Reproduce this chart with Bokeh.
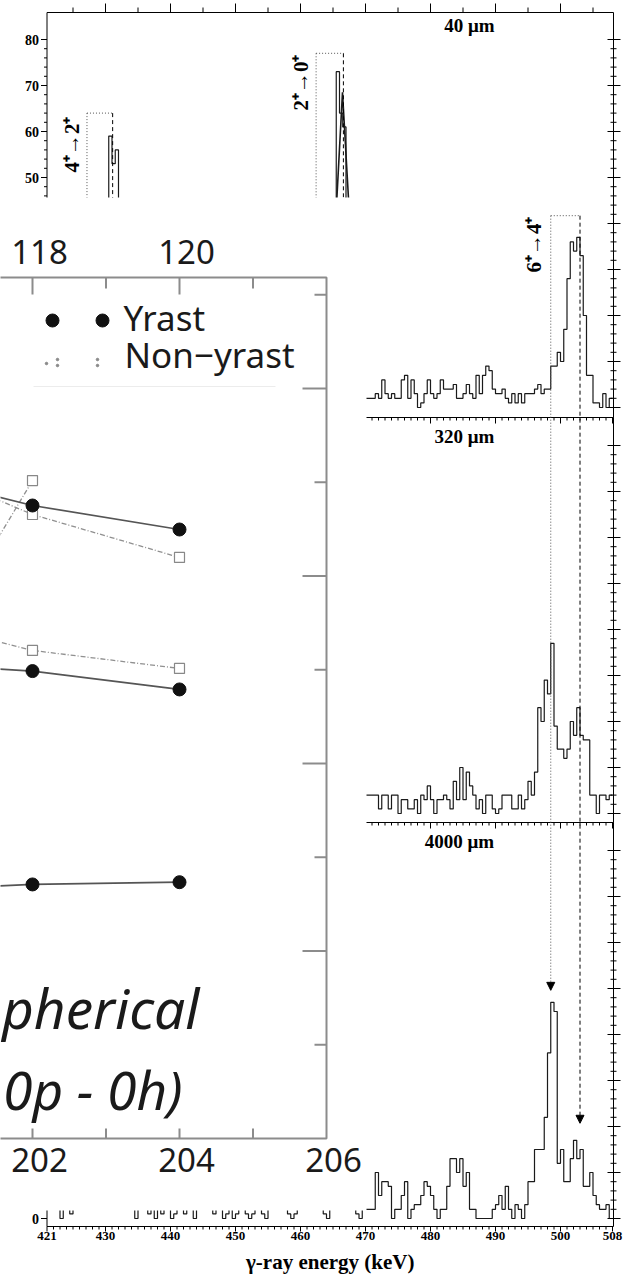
import numpy as np
from bokeh.plotting import figure
from bokeh.models import Range1d, Arrow, NormalHead
from bokeh.core.properties import value
from bokeh.embed import file_html
from bokeh.resources import INLINE

# ======================= DATA =======================
BIN_KEV = 0.5
# 40 um panel (counts per 0.5 keV bin, first bin starts at P1_START)
P1_START = 470.0
P1_COUNTS = [2, 2, 2, 3, 2, 6, 3, 2, 3, 2,
             2, 6, 7, 2, 6, 3, 0, 1, 3, 6,
             3, 2, 3, 6, 4, 4, 4, 5, 2, 2,
             3, 5, 3, 2, 7, 3, 7, 9, 8, 4,
             3, 3, 4, 2, 1, 3, 1, 3, 1, 3,
             3, 3, 4, 5, 3, 4, 4, 9, 9, 12,
             10, 17, 28, 36, 34, 37, 33, 20, 7, 7,
             1, 1, 0, 3, 0, 2]
P1_42_START = 429.5
P1_42_COUNTS = [20, 38, 59, 53, 56, 30, 12]
P1_20_START = 464.5
P1_20_COUNTS = [15, 35, 73, 64, 61, 30, 12]
FIT20_E = [465.2, 466.46, 467.8]
FIT20_C = [35, 68.5, 35]
# 320 um panel
P2_START = 470.0
P2_COUNTS = [4, 4, 4, 4, 1, 4, 4, 1, 4, 4,
             0, 3, 3, 1, 1, 3, 0, 4, 3, 6,
             3, 0, 3, 3, 4, 3, 1, 7, 3, 10,
             3, 9, 6, 4, 1, 3, 0, 4, 4, 1,
             0, 1, 4, 4, 4, 1, 1, 4, 1, 3,
             7, 4, 9, 23, 20, 29, 26, 37, 19, 14,
             14, 12, 14, 20, 17, 23, 17, 16, 16, 4,
             4, 0, 4, 4, 3, 4]
# 4000 um panel
P3_START = 421.0
P3_COUNTS = [4, 5, 3, 4, 0, 5, 3, 1, 4, 6,
             3, 5, 4, 3, 6, 4, 3, 5, 4, 3,
             5, 4, 3, 6, 4, 5, 3, 0, 4, 3,
             5, 1, 4, 0, 3, 1, 4, 5, 0, 1,
             4, 3, 1, 5, 4, 0, 3, 4, 5, 3,
             4, 1, 4, 3, 0, 1, 4, 0, 1, 3,
             5, 1, 0, 1, 4, 3, 1, 0, 4, 5,
             3, 4, 5, 3, 1, 0, 1, 4, 3, 5,
             4, 3, 5, 4, 3, 1, 0, 4, 5, 3,
             4, 5, 3, 4, 3, 1, 0, 2,
             2, 2, 2, 10, 5, 8, 8, 7, 0, 2,
             2, 5, 8, 0, 2, 3, 3, 5, 8, 7,
             5, 2, 0, 2, 2, 7, 13, 13, 10, 13,
             7, 10, 2, 2, 0, 0, 0, 0, 0, 2,
             3, 5, 2, 7, 2, 0, 3, 2, 0, 3,
             8, 8, 15, 15, 15, 22, 36, 47, 45, 12,
             15, 8, 8, 13, 17, 13, 15, 7, 7, 10,
             5, 3, 2, 2, 3, 0]

PANEL_LABELS = ["40 \u03bcm", "320 \u03bcm", "4000 \u03bcm"]
TRANS_LABELS = ["4\u207a\u21922\u207a", "2\u207a\u21920\u207a", "6\u207a\u21924\u207a"]
TRANS_E_DOTTED = [427.15, 462.4, 498.5]
TRANS_E_DASHED = [431.1, 466.6, 503.0]
TRANS_BOX_TOP = [64, 77, 41.7]
ARROW_TIPS_P3 = [49.6, 20.7]   # counts in the 4000 um panel (dotted, dashed)

E_TICKS = [421, 430, 440, 450, 460, 470, 480, 490, 500, 508]
E_MINOR = list(range(422, 508))
E_TOP_MAJOR = [430, 440, 450, 460, 470, 480, 490, 500]
E_TOP_MINOR = [425, 435, 445, 455, 465, 475, 485, 495, 505]
COUNT_MAJOR = list(range(0, 81, 10))
COUNT_MINOR = list(range(0, 81, 2))
P1_YLABELS = [50, 60, 70, 80]
P3_YLABELS = [0]
X_TITLE = "\u03b3-ray energy (keV)"

# inset (Yrast / Non-yrast) chart
OV_A_MAJOR = [202, 204, 206]
OV_A_MINOR = [203, 205]
OV_N_MAJOR = [118, 120]
OV_N_MINOR = [119, 121]
OV_A_MINUS_N = 84
OV_Y_MAJOR = [1, 2, 3, 4]
OV_Y_MINOR = [0.5, 1.5, 2.5, 3.5, 4.5]
OV_X = [200, 202, 204]
YRAST_1 = [3.57, 3.376, 3.248]
YRAST_2 = [2.54, 2.493, 2.395]
YRAST_3 = [1.32, 1.355, 1.367]
NONYRAST_1 = [3.66, 3.328, 3.099]
NONYRAST_2_X = [200, 202]
NONYRAST_2 = [2.2, 3.509]
NONYRAST_3 = [2.8, 2.603, 2.507]
LEGEND_TEXT = ["Yrast", "Non\u2212yrast"]
OV_TEXT = ["pherical", "0p - 0h)"]

# ======================= LAYOUT =======================
W, H = 623, 1281
PAGE_L, PAGE_R, PAGE_T, PAGE_B = 0, W, 0, H
E_REF, PX_REF, PX_PER_KEV = 470.0, 365.0, 6.5
PX_PER_COUNT = 4.6
PANEL_ZERO = [407, 813, 1218]
PANEL_TOP = [12, 417, 822]
PANEL_BOTTOM = [417, 822, 1226]
OV_A_REF, OV_PX_REF, OV_PX_PER_A = 202, 32, 73.5
OV_Y0_PAGE, OV_PX_PER_Y = 1138, 187.5
OV_Y_TOP = 4.592
MASK = dict(left=PAGE_L, right=366, top=197, bottom=1210)

SERIF = value("Liberation Serif")
SANS = value("Noto Sans")
INK = "#1a1a1a"
GRAY = "#8c8c8c"


def e_at(px):
    return E_REF + (px - PX_REF) / PX_PER_KEV


def px_of_e(e):
    return PX_REF + (e - E_REF) * PX_PER_KEV


def page_y(panel, c):
    return PANEL_ZERO[panel] - PX_PER_COUNT * c


def ov_a_at(px):
    return OV_A_REF + (px - OV_PX_REF) / OV_PX_PER_A


def ov_y_at(py):
    return (OV_Y0_PAGE - py) / OV_PX_PER_Y


def ov_page_y(v):
    return OV_Y0_PAGE - v * OV_PX_PER_Y


def ov_px(a):
    return OV_PX_REF + (a - OV_A_REF) * OV_PX_PER_A


E_LEFT, E_RIGHT = 421.0, e_at(613)
PX_LEFT, PX_RIGHT = px_of_e(E_LEFT), 613

p = figure(width=W, height=H, output_backend="svg", toolbar_location=None,
           x_range=Range1d(e_at(PAGE_L), e_at(PAGE_R)),
           y_range=Range1d(PAGE_B, PAGE_T),
           x_axis_type=None, y_axis_type=None,
           min_border_left=0, min_border_right=0, min_border_top=0, min_border_bottom=0)
p.outline_line_color = None
p.background_fill_color = "white"
p.border_fill_color = "white"
p.extra_x_ranges = {"px": Range1d(PAGE_L, PAGE_R),
                    "ovx": Range1d(ov_a_at(PAGE_L), ov_a_at(PAGE_R))}
p.extra_y_ranges = {f"pan{k}": Range1d((PANEL_ZERO[k] - PAGE_B) / PX_PER_COUNT,
                                       (PANEL_ZERO[k] - PAGE_T) / PX_PER_COUNT) for k in range(3)}
p.extra_y_ranges["ovy"] = Range1d(ov_y_at(PAGE_B), ov_y_at(PAGE_T))


def hist_xy(start, counts):
    edges = start + BIN_KEV * np.arange(len(counts) + 1)
    return edges, list(counts) + [counts[-1]]


# ---------------- spectrum ----------------
HIST = dict(line_color=INK, line_width=1.2, mode="after")
for k, (st, cn) in enumerate([(P1_START, P1_COUNTS), (P2_START, P2_COUNTS), (P3_START, P3_COUNTS)]):
    x, y = hist_xy(st, cn)
    p.step(x, y, y_range_name=f"pan{k}", **HIST)
for st, cn in [(P1_42_START, P1_42_COUNTS), (P1_20_START, P1_20_COUNTS)]:
    x, y = hist_xy(st, cn)
    p.step(x, y, y_range_name="pan0", **HIST)
p.line(FIT20_E, FIT20_C, y_range_name="pan0", line_color=INK, line_width=1.6)

# panel frames
p.quad(left=[E_LEFT] * 3, right=[E_RIGHT] * 3, top=PANEL_TOP, bottom=PANEL_BOTTOM,
       fill_color=None, line_color="black", line_width=1)

# x ticks on panel borders
x0, y0, x1, y1 = [], [], [], []
for e in E_TOP_MAJOR:
    x0 += [e]; y0 += [PANEL_TOP[0]]; x1 += [e]; y1 += [PANEL_TOP[0] - 9]
for e in E_TOP_MINOR:
    x0 += [e]; y0 += [PANEL_TOP[0]]; x1 += [e]; y1 += [PANEL_TOP[0] - 5]
for k in (1, 2):
    for e in E_MINOR:
        x0 += [e]; y0 += [PANEL_TOP[k]]; x1 += [e]; y1 += [PANEL_TOP[k] + 3]
    for e in E_TICKS:
        x0 += [e]; y0 += [PANEL_TOP[k]]; x1 += [e]; y1 += [PANEL_TOP[k] + 6]
# bottom energy axis (outward ticks)
for e in E_MINOR:
    x0 += [e]; y0 += [PANEL_BOTTOM[2]]; x1 += [e]; y1 += [PANEL_BOTTOM[2] + 3]
for e in E_TICKS:
    x0 += [e]; y0 += [PANEL_BOTTOM[2]]; x1 += [e]; y1 += [PANEL_BOTTOM[2] + 5]
p.segment(x0, y0, x1, y1, line_color="black", line_width=1)

p.text(x=E_TICKS, y=[1235] * len(E_TICKS), text=[str(e) for e in E_TICKS],
       text_font=SERIF, text_font_style="bold", text_font_size="13px", text_align="center",
       text_baseline="middle", text_color="black")
p.text(x=[(E_LEFT + E_RIGHT) / 2], y=[1261], text=[X_TITLE], text_font=SERIF,
       text_font_style="bold", text_font_size="21px", text_align="center",
       text_baseline="middle", text_color="black")

# y ticks (left outward; right inward and outward)
for k in range(3):
    x0, y0, x1, y1 = [], [], [], []
    for c in COUNT_MINOR:
        x0 += [PX_LEFT, PX_RIGHT - 3, PX_RIGHT]
        x1 += [PX_LEFT - 3, PX_RIGHT, PX_RIGHT + 3]
        y0 += [c, c, c]; y1 += [c, c, c]
    for c in COUNT_MAJOR:
        x0 += [PX_LEFT, PX_RIGHT - 6, PX_RIGHT]
        x1 += [PX_LEFT - 6, PX_RIGHT, PX_RIGHT + 7]
        y0 += [c, c, c]; y1 += [c, c, c]
    p.segment(x0, y0, x1, y1, x_range_name="px", y_range_name=f"pan{k}",
              line_color="black", line_width=1)

for k, labs in [(0, P1_YLABELS), (2, P3_YLABELS)]:
    p.text(x=[PX_LEFT - 8] * len(labs), y=labs, text=[str(v) for v in labs],
           x_range_name="px", y_range_name=f"pan{k}", text_font=SERIF, text_font_style="bold",
           text_font_size="14px", text_align="right", text_baseline="middle", text_color="black")

# transitions: boxes and lines
for i in range(2):
    p.segment([TRANS_E_DOTTED[i]], [TRANS_BOX_TOP[i]], [TRANS_E_DASHED[i]], [TRANS_BOX_TOP[i]],
              y_range_name="pan0", line_color="#555", line_dash="1 2", line_width=1)
    p.segment([TRANS_E_DOTTED[i]], [TRANS_BOX_TOP[i]], [TRANS_E_DOTTED[i]], [0],
              y_range_name="pan0", line_color="#555", line_dash="1 2", line_width=1)
    p.segment([TRANS_E_DASHED[i]], [TRANS_BOX_TOP[i]], [TRANS_E_DASHED[i]], [0],
              y_range_name="pan0", line_color="black", line_dash="4 3", line_width=1)
p.segment([TRANS_E_DOTTED[2]], [TRANS_BOX_TOP[2]], [TRANS_E_DASHED[2]], [TRANS_BOX_TOP[2]],
          y_range_name="pan0", line_color="#555", line_dash="1 2", line_width=1)

# labels
LABEL_POS = [(71, 144), (300, 82), (533, 244)]
p.text(x=[q[0] for q in LABEL_POS], y=[q[1] for q in LABEL_POS], text=TRANS_LABELS,
       x_range_name="px", angle=np.pi / 2, text_font=SERIF, text_font_style="bold",
       text_font_size="21px", text_align="center", text_baseline="middle", text_color="black")
PANEL_LABEL_POS = [(469, 25), (464, 436), (459, 841)]
p.text(x=[q[0] for q in PANEL_LABEL_POS], y=[q[1] for q in PANEL_LABEL_POS], text=PANEL_LABELS,
       x_range_name="px", text_font=SERIF, text_font_style="bold", text_font_size="19px",
       text_align="center", text_baseline="middle", text_color="black")

# ---------------- white inset area ----------------
p.quad(left=[MASK["left"]], right=[MASK["right"]], top=[MASK["top"]], bottom=[MASK["bottom"]],
       x_range_name="px", fill_color="white", line_color=None)

# inset frame
p.line(x=[OV_X[0], OV_A_MAJOR[-1], OV_A_MAJOR[-1], OV_X[0]], y=[OV_Y_TOP, OV_Y_TOP, 0, 0],
       x_range_name="ovx", y_range_name="ovy", line_color=GRAY, line_width=2)
top_pg, bot_pg = ov_page_y(OV_Y_TOP), ov_page_y(0)
x0, y0, x1, y1 = [], [], [], []
for n in OV_N_MAJOR:
    x0 += [n + OV_A_MINUS_N]; y0 += [top_pg]; x1 += [n + OV_A_MINUS_N]; y1 += [top_pg + 17]
for n in OV_N_MINOR:
    x0 += [n + OV_A_MINUS_N]; y0 += [top_pg]; x1 += [n + OV_A_MINUS_N]; y1 += [top_pg + 11]
for a in OV_A_MAJOR[:-1] + OV_A_MINOR:
    x0 += [a]; y0 += [bot_pg]; x1 += [a]; y1 += [bot_pg - 10]
p.segment(x0, y0, x1, y1, x_range_name="ovx", line_color=GRAY, line_width=2)
rx = ov_px(OV_A_MAJOR[-1])
x0, y0, x1, y1 = [], [], [], []
for v in OV_Y_MAJOR:
    x0 += [rx]; x1 += [rx - 24]; y0 += [v]; y1 += [v]
for v in OV_Y_MINOR:
    x0 += [rx]; x1 += [rx - 12]; y0 += [v]; y1 += [v]
p.segment(x0, y0, x1, y1, x_range_name="px", y_range_name="ovy", line_color=GRAY, line_width=2)

OVF = dict(text_font=SANS, text_font_size="33px", text_color=INK, text_align="center",
           text_baseline="alphabetic", x_offset=7)
p.text(x=[n + OV_A_MINUS_N for n in OV_N_MAJOR], y=[251] * len(OV_N_MAJOR),
       text=[str(n) for n in OV_N_MAJOR], x_range_name="ovx", **OVF)
p.text(x=OV_A_MAJOR, y=[1159] * len(OV_A_MAJOR), text=[str(a) for a in OV_A_MAJOR],
       x_range_name="ovx", **OVF)

# inset series
NY = dict(x_range_name="ovx", y_range_name="ovy")
for ys in (NONYRAST_1, NONYRAST_3):
    p.line(OV_X, ys, line_color="#909090", line_width=1.3, line_dash="5 2 1 2", **NY)
p.line(NONYRAST_2_X, NONYRAST_2, line_color="#909090", line_width=1.3, line_dash="5 2 1 2", **NY)
for ys in (YRAST_1, YRAST_2, YRAST_3):
    p.line(OV_X, ys, line_color="#555555", line_width=1.7, **NY)
for ys in (NONYRAST_1, NONYRAST_3):
    p.scatter(OV_X, ys, marker="square", size=10, fill_color="white", line_color="#888888",
              line_width=1.2, **NY)
p.scatter(NONYRAST_2_X, NONYRAST_2, marker="square", size=10, fill_color="white",
          line_color="#888888", line_width=1.2, **NY)
for ys in (YRAST_1, YRAST_2, YRAST_3):
    p.scatter(OV_X, ys, marker="circle", size=13, color="#111111", **NY)

# legend
p.scatter([52, 102], [320, 320], x_range_name="px", marker="circle", size=13, color="#111111")
p.scatter([46, 57, 57, 97, 97], [363, 359, 365, 359, 365], x_range_name="px", marker="circle",
          size=2.5, color="#888888")
p.segment([33], [386], [275], [386], x_range_name="px", line_color="#ececec", line_width=1)
p.text(x=[123, 124], y=[317, 354], text=LEGEND_TEXT, x_range_name="px", text_font=SANS,
       text_font_size="35px", text_color=INK, text_align="left", text_baseline="alphabetic")

p.text(x=[199], y=[1007], text=[OV_TEXT[0]], x_range_name="px", text_font=SANS,
       text_font_style="italic", text_font_size="55px", text_color=INK, text_align="right",
       text_baseline="alphabetic")
p.text(x=[182], y=[1089], text=[OV_TEXT[1]], x_range_name="px", text_font=SANS,
       text_font_style="italic", text_font_size="53px", text_color=INK, text_align="right",
       text_baseline="alphabetic")

# arrows 6+ -> 4+ through all panels
top_page = page_y(0, TRANS_BOX_TOP[2])
p.add_layout(Arrow(x_start=TRANS_E_DOTTED[2], y_start=top_page, x_end=TRANS_E_DOTTED[2],
                   y_end=page_y(2, ARROW_TIPS_P3[0]), line_color="#555", line_dash="1 2",
                   line_width=1, end=NormalHead(size=8, fill_color="black", line_color="black")))
p.add_layout(Arrow(x_start=TRANS_E_DASHED[2], y_start=top_page, x_end=TRANS_E_DASHED[2],
                   y_end=page_y(2, ARROW_TIPS_P3[1]), line_color="black", line_dash="4 3",
                   line_width=1, end=NormalHead(size=8, fill_color="black", line_color="black")))

open("out.html", "w").write(file_html(p, INLINE))
